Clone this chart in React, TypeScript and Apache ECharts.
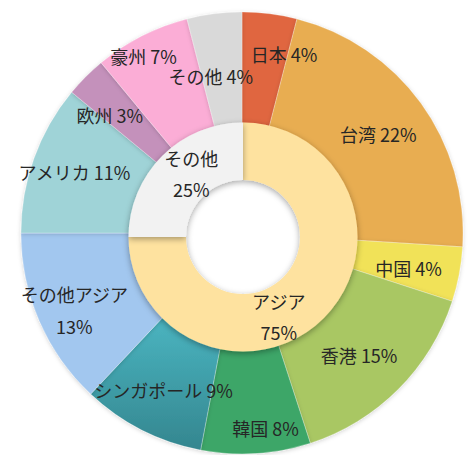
import React, { useEffect, useRef } from "react";
import * as echarts from "echarts";

const outerNames = ["日本", "台湾", "中国", "香港", "韓国", "シンガポール", "その他アジア", "アメリカ", "欧州", "豪州", "その他"];
const outerValues = [4, 22, 4, 15, 8, 9, 13, 11, 3, 7, 4];
const innerNames = ["アジア", "その他"];
const innerValues = [75, 25];

const outerColors: any[] = [
  "#E0663F",
  "#E8AD51",
  "#F1E259",
  "#A9C763",
  "#3CA667",
  new echarts.graphic.LinearGradient(0, 0, 0, 1, [
    { offset: 0, color: "#4BB6C2" },
    { offset: 1, color: "#34868F" },
  ]),
  "#A2C7EF",
  "#9FD3D7",
  "#C491BB",
  "#FBADD6",
  "#D9D9D9",
];
const innerColors = ["#FEE29F", "#F2F2F2"];

const outerLabelOffsets = [
  [21, -12], [0, 0], [1, 3], [-2, 3], [13, 27], [-2, 7], [-13, 10], [-9, -4], [-13, 1], [-22, -27], [-10, 10],
];
const innerLabelOffsets = [[-27, 17], [11, -1]];

const FONT = '"Noto Sans CJK JP", "Noto Sans", sans-serif';

export default function App() {
  const ref = useRef<HTMLDivElement>(null);
  useEffect(() => {
    if (!ref.current) return;
    const chart = echarts.init(ref.current, undefined, { renderer: "svg" });
    const outerData = outerNames.map((n, i) => ({
      name: n,
      value: outerValues[i],
      itemStyle: { color: outerColors[i] },
      label: {
        offset: outerLabelOffsets[i],
        formatter: n === "その他アジア" ? "{b}\n{c}%" : "{b} {c}%",
      },
    }));
    const innerData = innerNames.map((n, i) => ({
      name: n,
      value: innerValues[i],
      itemStyle: { color: innerColors[i] },
      label: { offset: innerLabelOffsets[i] },
    }));
    chart.setOption({
      animation: false,
      backgroundColor: "#ffffff",
      series: [
        {
          type: "pie",
          center: [242, 233],
          radius: [110, 221],
          startAngle: 90,
          clockwise: true,
          avoidLabelOverlap: false,
          labelLayout: { hideOverlap: false },
          itemStyle: {
            borderColor: "rgba(255,255,255,0.5)",
            borderWidth: 0.5,
            shadowBlur: 4,
            shadowColor: "rgba(0,0,0,0.18)",
            shadowOffsetY: 1,
          },
          label: {
            show: true,
            position: "inside",
            color: "#262626",
            fontSize: 18,
            fontFamily: FONT,
            lineHeight: 32,
          },
          labelLine: { show: false },
          emphasis: { disabled: true },
          data: outerData,
        },
        {
          type: "pie",
          center: [243, 237],
          radius: [57, 114.5],
          startAngle: 90,
          clockwise: true,
          avoidLabelOverlap: false,
          labelLayout: { hideOverlap: false },
          itemStyle: {
            shadowBlur: 6,
            shadowColor: "rgba(0,0,0,0.35)",
            shadowOffsetY: 2,
          },
          label: {
            show: true,
            position: "inside",
            color: "#262626",
            fontSize: 18,
            fontFamily: FONT,
            lineHeight: 31,
            formatter: "{b}\n{c}%",
          },
          labelLine: { show: false },
          emphasis: { disabled: true },
          data: innerData,
        },
      ],
    });
    return () => chart.dispose();
  }, []);
  return (
    <div
      ref={ref}
      style={{ position: "absolute", left: 0, top: 0, width: 474, height: 455 }}
    />
  );
}
